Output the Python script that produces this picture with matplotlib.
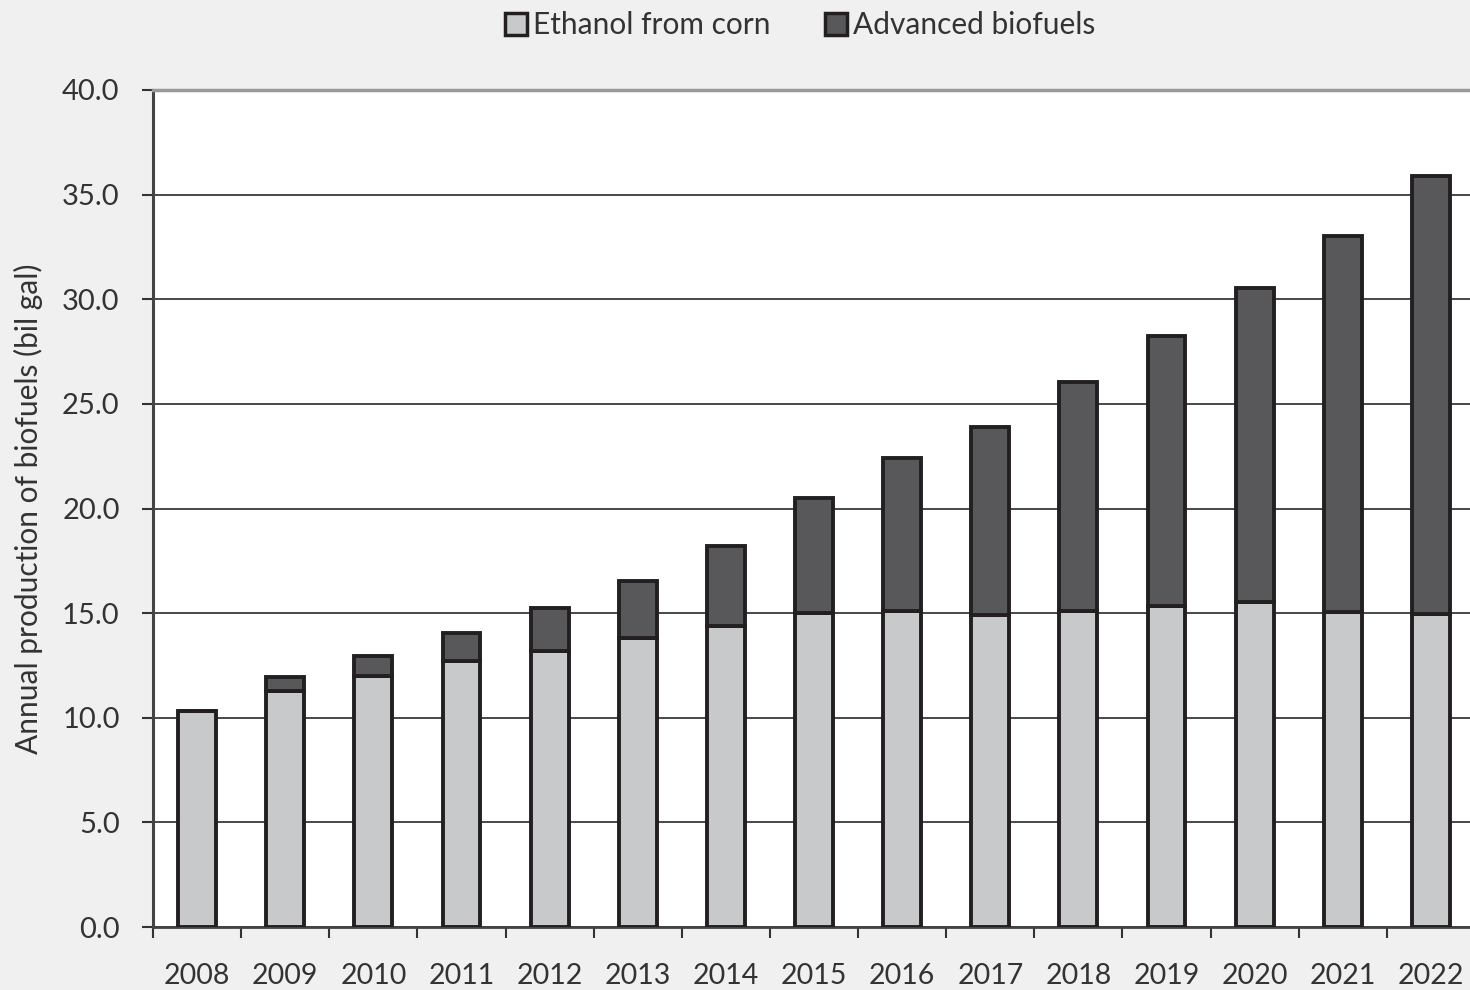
import matplotlib
matplotlib.use("Agg")
import matplotlib.pyplot as plt
from matplotlib.patches import Patch
import numpy as np

years = ["2008", "2009", "2010", "2011", "2012", "2013", "2014", "2015",
         "2016", "2017", "2018", "2019", "2020", "2021", "2022"]
corn = [10.3, 11.3, 12.0, 12.7, 13.2, 13.8, 14.4, 15.0,
        15.1, 14.9, 15.1, 15.35, 15.55, 15.05, 14.95]
advanced = [0.0, 0.65, 0.95, 1.35, 2.05, 2.75, 3.8, 5.5,
            7.3, 9.0, 10.95, 12.9, 15.0, 17.95, 20.95]
yticks = [0, 5, 10, 15, 20, 25, 30, 35, 40]

plt.rcParams['font.family'] = ['Lato', 'DejaVu Sans']

fig = plt.figure(figsize=(14.7, 9.9), dpi=100, facecolor='#f0f0f0')
ax = fig.add_axes([153/1470, 63/990, 1322/1470, 837/990])
ax.set_facecolor('white')

x = np.arange(len(years))
w = 0.43
light = '#c8c9cb'
dark = '#58585a'
ax.bar(x, corn, w, color=light, edgecolor='#231f20', linewidth=2.8, zorder=3)
ax.bar(x, advanced, w, bottom=corn, color=dark, edgecolor='#231f20', linewidth=2.8, zorder=3)

ax.set_xlim(-0.5, len(years) - 0.5)
ax.set_ylim(0, 40)
ax.set_yticks(yticks)
ax.set_yticklabels([f"{v:.1f}" for v in yticks], fontsize=21, color='#333333')
ax.yaxis.grid(True, color='#2a2a2a', linewidth=1.2, zorder=0)
ax.set_axisbelow(True)

ax.set_xticks(np.arange(len(years) + 1) - 0.5)
ax.set_xticklabels([])
ax.set_xticks(x, minor=True)
ax.set_xticklabels(years, minor=True, fontsize=20.5, color='#333333')
ax.tick_params(axis='x', which='minor', length=0, pad=26)
ax.tick_params(axis='x', which='major', direction='out', length=8, width=1.5, color='#333333')
ax.tick_params(axis='y', direction='out', length=8, width=1.5, color='#333333', pad=16)

ax.spines['right'].set_visible(False)
ax.spines['top'].set_color('#999999')
ax.spines['top'].set_linewidth(2.5)
ax.spines['left'].set_color('#444444')
ax.spines['left'].set_linewidth(2.2)
ax.spines['bottom'].set_color('#444444')
ax.spines['bottom'].set_linewidth(2.0)

ax.set_ylabel("Annual production of biofuels (bil gal)", fontsize=21.5, color='#333333', labelpad=14)

handles = [Patch(facecolor=light, edgecolor='#231f20', linewidth=2.5, label='Ethanol from corn'),
           Patch(facecolor=dark, edgecolor='#231f20', linewidth=2.5, label='Advanced biofuels')]
fig.legend(handles=handles, loc='center', bbox_to_anchor=(800/1470, 1 - 25/990), ncol=2,
           frameon=False, fontsize=21.5, handlelength=0.75, handleheight=0.75,
           handletextpad=0.2, columnspacing=1.8, labelcolor='#333333')

fig.savefig("out.png", dpi=100, facecolor=fig.get_facecolor())
